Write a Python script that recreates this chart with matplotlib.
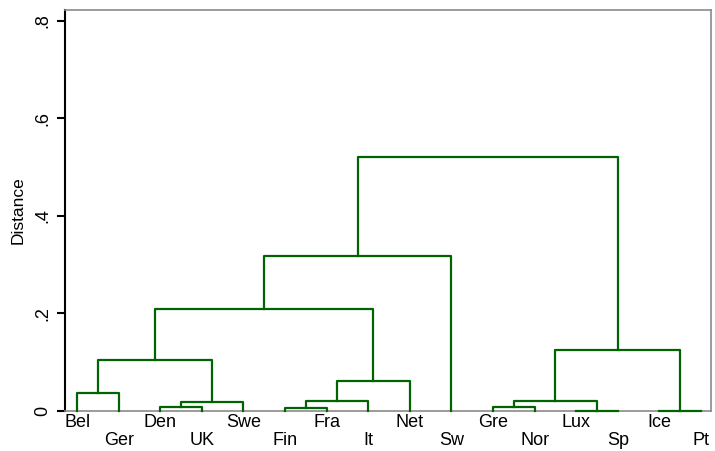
import matplotlib.pyplot as plt

plt.rcParams['font.family'] = ['Liberation Sans', 'DejaVu Sans']

countries = ['Bel', 'Ger', 'Den', 'UK', 'Swe', 'Fin', 'Fra', 'It',
             'Net', 'Sw', 'Gre', 'Nor', 'Lux', 'Sp', 'Ice', 'Pt']

# merges: (node a, node b, height); leaves are 0..15, merge k creates node 16+k
merge_a = [0, 2, 5, 10, 12, 14, 17, 18, 19, 23, 16, 24, 26, 28, 29]
merge_b = [1, 3, 6, 11, 13, 15, 4, 7, 20, 8, 22, 21, 25, 9, 27]
heights = [0.0365, 0.009, 0.006, 0.0075, 0.0, 0.0, 0.018, 0.0205, 0.0205,
           0.0615, 0.105, 0.125, 0.209, 0.318, 0.5215]

xpos = {i: i + 1 for i in range(len(countries))}
ypos = {i: 0.0 for i in range(len(countries))}

fig = plt.figure(figsize=(7.15, 4.51), dpi=100)
ax = fig.add_axes([65 / 715, 40 / 451, 646 / 715, 401 / 451])

green = '#006400'
for k, (a, b, h) in enumerate(zip(merge_a, merge_b, heights)):
    xa, xb = xpos[a], xpos[b]
    ax.plot([xa, xa, xb, xb], [ypos[a], h, h, ypos[b]], color=green, lw=1.6,
            solid_capstyle='projecting', clip_on=False, zorder=5)
    xpos[16 + k] = (xa + xb) / 2
    ypos[16 + k] = h

ax.set_xlim(0.71, 16.24)
ax.set_ylim(0, 0.822)

ax.set_yticks([0, 0.2, 0.4, 0.6, 0.8], ['0', '.2', '.4', '.6', '.8'])
ax.tick_params(axis='y', length=6, width=1.5, labelsize=13, pad=4,
               labelrotation=90)
for lab in ax.get_yticklabels():
    lab.set_va('center')
ax.set_ylabel('Distance', fontsize=12.5, labelpad=6)

ax.set_xticks(range(1, len(countries) + 1), countries)
ax.tick_params(axis='x', length=0, labelsize=13)
for i, t in enumerate(ax.xaxis.get_major_ticks()):
    t.set_pad(2 if i % 2 == 0 else 15)

ax.spines['left'].set_color('black')
ax.spines['left'].set_linewidth(1.5)
for s in ['top', 'right', 'bottom']:
    ax.spines[s].set_color('#8a8a8a')
    ax.spines[s].set_linewidth(1.2)

fig.savefig('out.png', dpi=100)
